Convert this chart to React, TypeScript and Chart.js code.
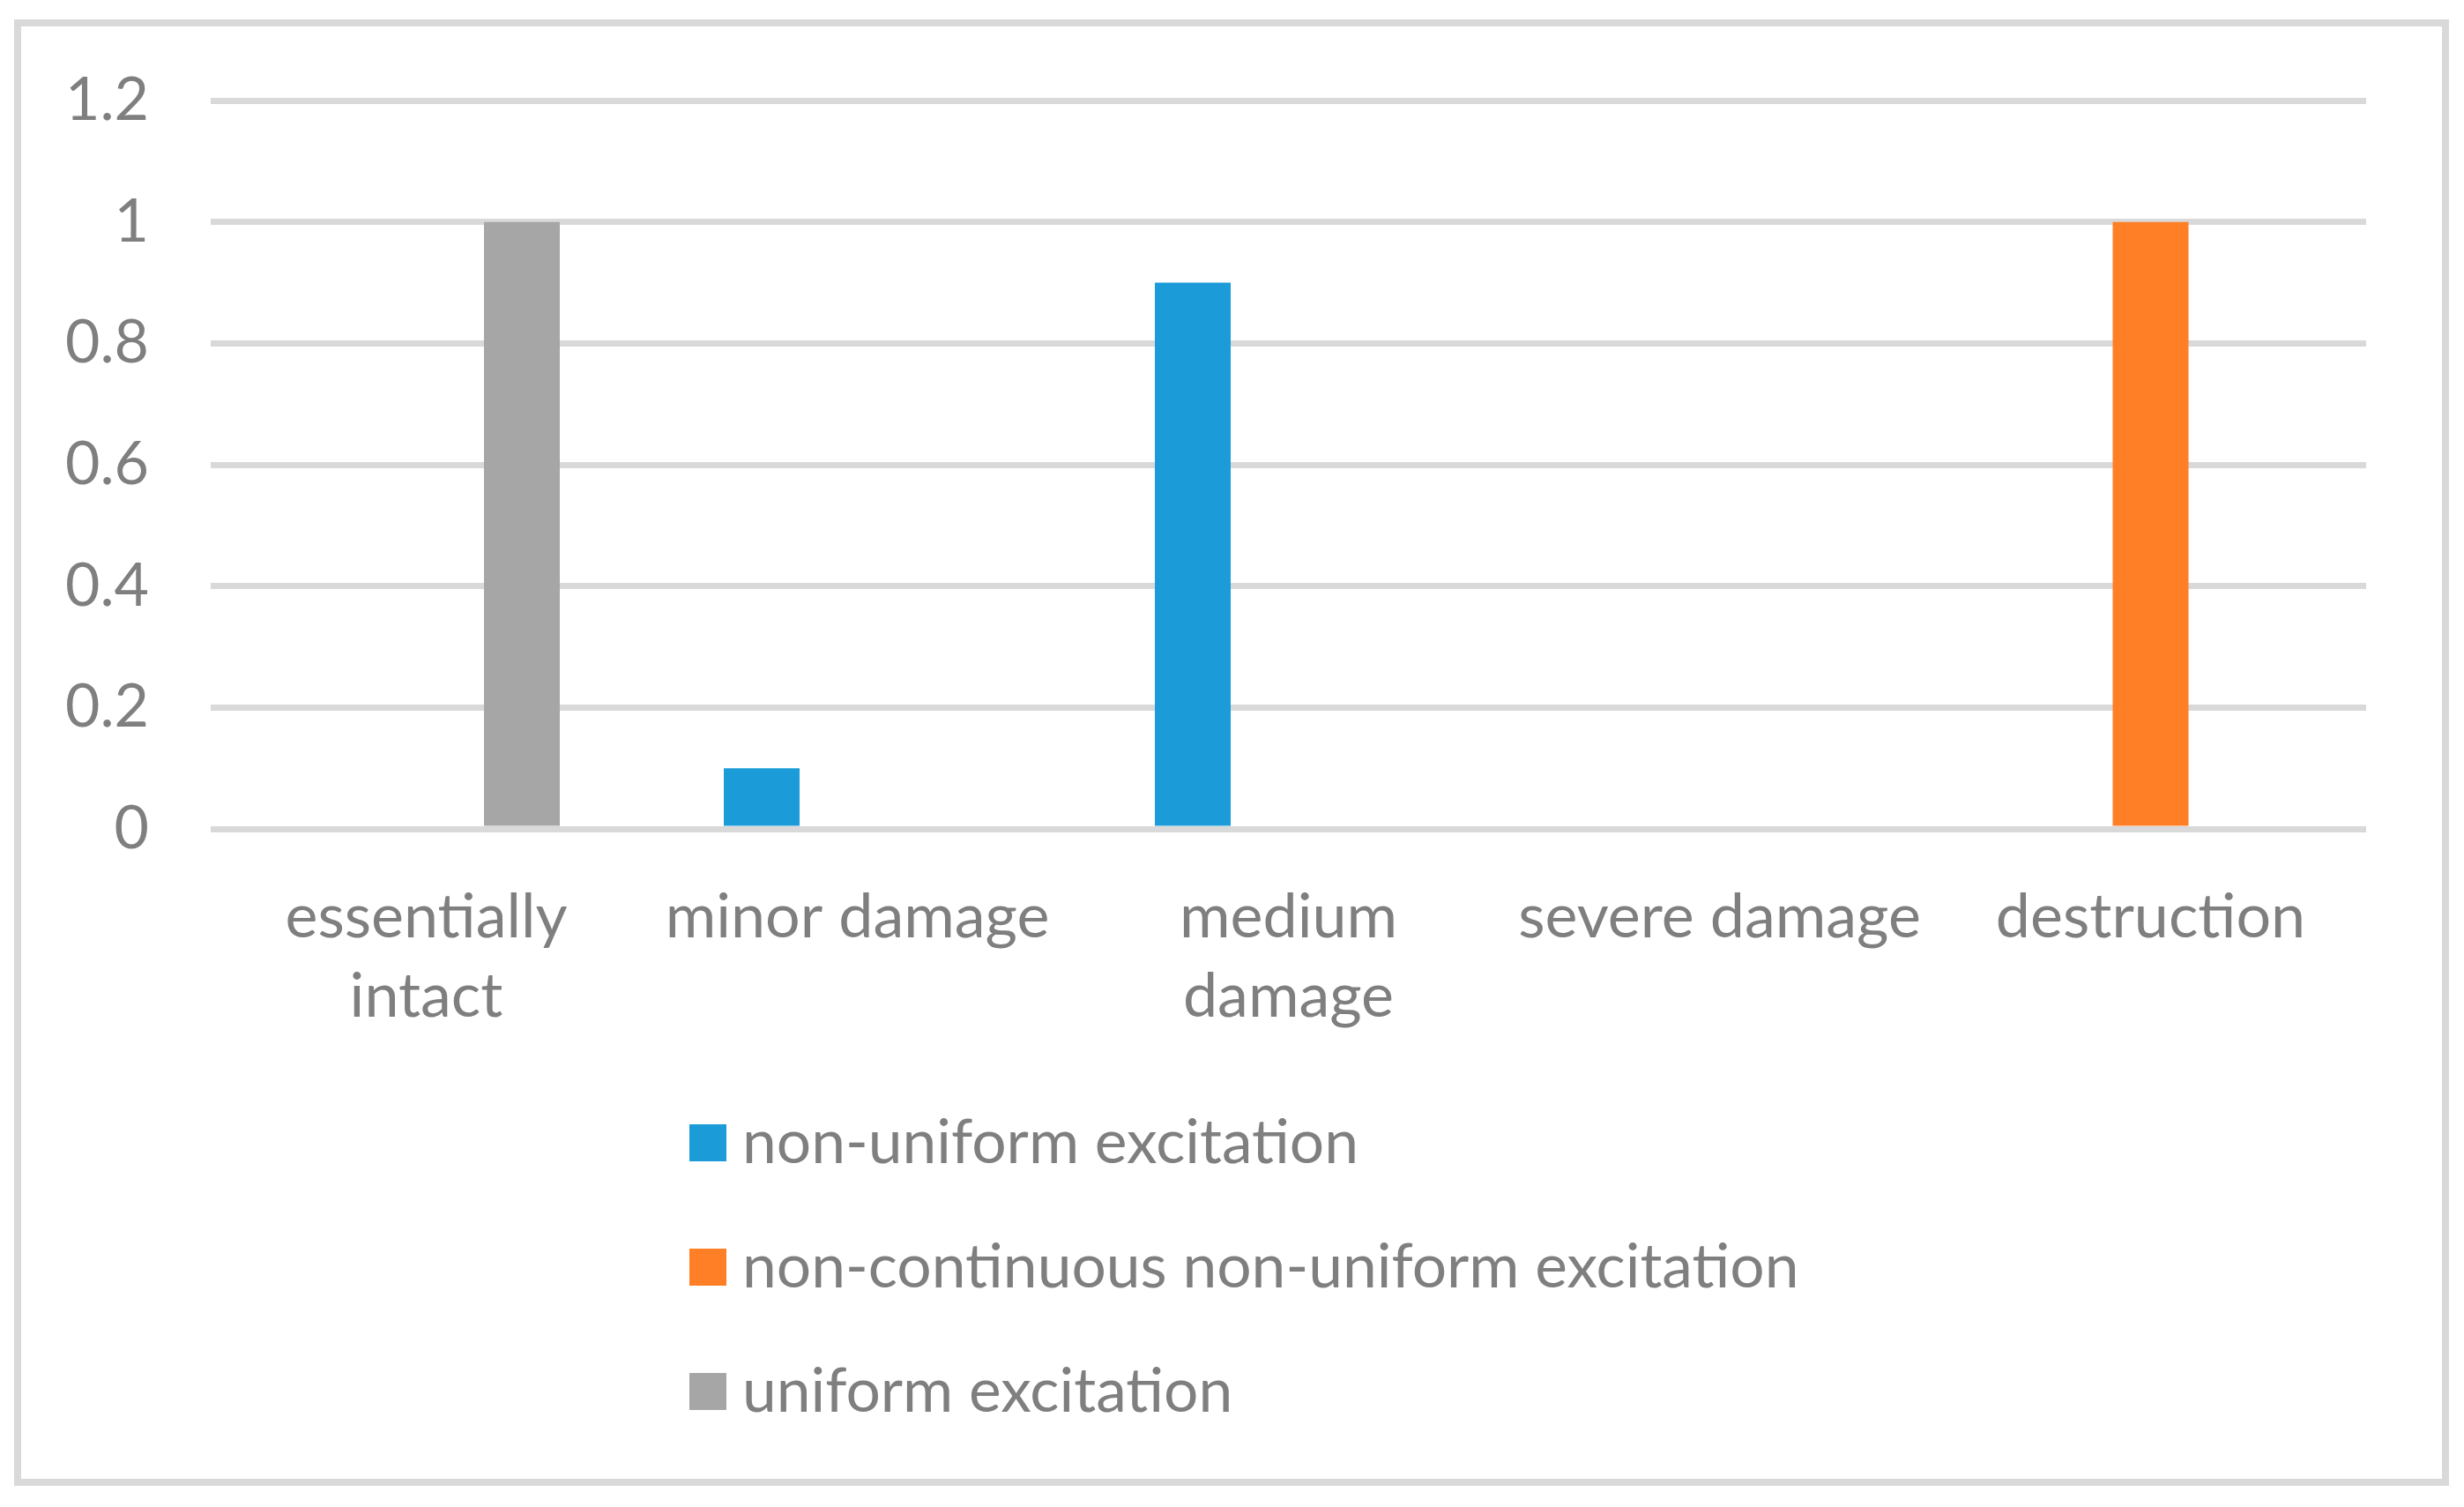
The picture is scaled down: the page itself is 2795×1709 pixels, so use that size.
import React, { useEffect, useRef } from "react";
import { Chart, registerables } from "chart.js";

Chart.register(...registerables);

// ---- data ----
const categories: (string | string[])[] = [
  ["essentially", "intact"],
  "minor damage",
  ["medium", "damage"],
  "severe damage",
  "destruction",
];
const seriesNames = [
  "non-uniform excitation",
  "non-continuous non-uniform excitation",
  "uniform excitation",
];
const nonUniform = [0, 0.1, 0.9, 0, 0];
const nonContinuous = [0, 0, 0, 0, 1];
const uniform = [1, 0, 0, 0, 0];
const seriesColors = ["#1B9CD9", "#FF7F27", "#A6A6A6"];
const yMin = 0;
const yMax = 1.2;
const yStep = 0.2;

// ---- style ----
const TEXT = "#7f7f7f";
const GRID = "#d9d9d9";
const FONT = "Lato";

const borderPlugin = {
  id: "outerBorder",
  beforeDraw(chart: any) {
    const ctx = chart.ctx;
    ctx.save();
    ctx.fillStyle = "#ffffff";
    ctx.fillRect(0, 0, chart.width, chart.height);
    ctx.strokeStyle = GRID;
    ctx.lineWidth = 8;
    ctx.strokeRect(20, 26, 2754, 1655);
    ctx.restore();
  },
};

const legendPlugin = {
  id: "stackedLegend",
  afterDraw(chart: any) {
    const ctx = chart.ctx;
    ctx.save();
    ctx.font = `69.5px ${FONT}`;
    ctx.textBaseline = "middle";
    ctx.textAlign = "left";
    chart.data.datasets.forEach((ds: any, i: number) => {
      const cy = 1296 + i * 141;
      ctx.fillStyle = ds.backgroundColor;
      ctx.fillRect(782, cy - 21, 42, 42);
      ctx.fillStyle = TEXT;
      ctx.fillText(ds.label, 842, cy + 1);
    });
    ctx.restore();
  },
};

export default function App() {
  const ref = useRef<HTMLCanvasElement | null>(null);

  useEffect(() => {
    if (!ref.current) return;
    const data = [nonUniform, nonContinuous, uniform];
    const chart = new Chart(ref.current, {
      type: "bar",
      data: {
        labels: categories,
        datasets: seriesNames.map((name, i) => ({
          label: name,
          data: data[i],
          backgroundColor: seriesColors[i],
          borderWidth: 0,
          categoryPercentage: 0.6656,
          barPercentage: 0.7926,
        })),
      },
      options: {
        animation: false,
        responsive: false,
        maintainAspectRatio: false,
        devicePixelRatio: 1,
        layout: { padding: { left: 0, top: 114, right: 111, bottom: 419 } },
        plugins: {
          legend: { display: false },
          tooltip: { enabled: false },
          title: { display: false },
        },
        scales: {
          x: {
            grid: { display: false, drawTicks: false },
            border: { display: false },
            ticks: {
              color: TEXT,
              padding: 55,
              maxRotation: 0,
              autoSkip: false,
              font: { family: FONT, size: 70, lineHeight: 1.286 },
            },
            afterFit: (scale: any) => {
              scale.height = 350;
            },
          },
          y: {
            min: yMin,
            max: yMax,
            grid: { color: GRID, lineWidth: 7, drawTicks: false },
            border: { display: false },
            ticks: {
              stepSize: yStep,
              color: TEXT,
              padding: 70,
              font: { family: FONT, size: 68 },
              callback: (v: any) => String(+Number(v).toFixed(2)),
            },
            afterFit: (scale: any) => {
              scale.width = 239;
            },
          },
        },
      },
      plugins: [borderPlugin, legendPlugin],
    });
    return () => chart.destroy();
  }, []);

  return (
    <div style={{ position: "absolute", left: 0, top: 0, width: 2795, height: 1709 }}>
      <canvas ref={ref} width={2795} height={1709} style={{ width: 2795, height: 1709, display: "block" }} />
    </div>
  );
}
